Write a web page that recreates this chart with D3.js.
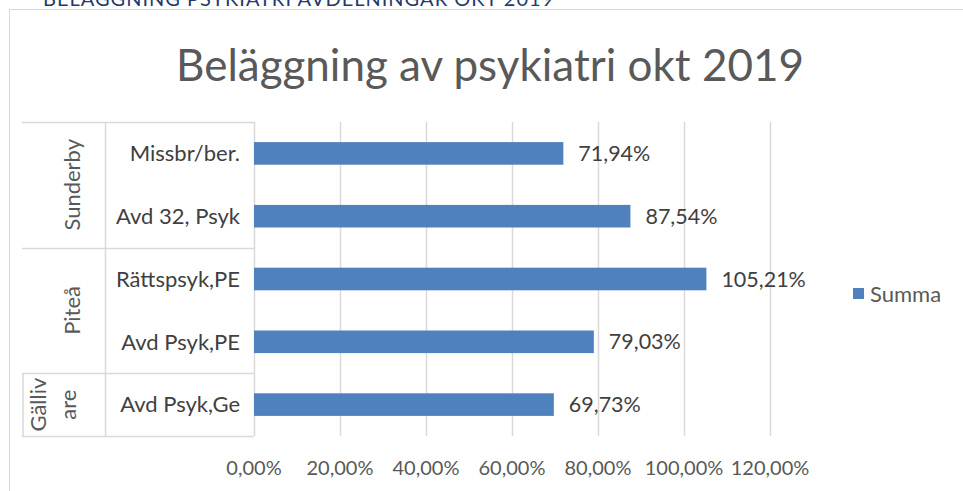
<!DOCTYPE html>
<html>
<head>
<meta charset="utf-8">
<script src="https://cdn.jsdelivr.net/npm/d3@7"></script>
<style>
  body { margin: 0; background: #fff; }
  svg { display: block; font-family: Lato, "Open Sans", sans-serif; }
</style>
</head>
<body>
<svg id="chart" width="963" height="491"></svg>
<script>
// Chart data.
const categories = ['Missbr/ber.', 'Avd 32, Psyk', 'Rättspsyk,PE', 'Avd Psyk,PE', 'Avd Psyk,Ge'];
const values = [71.94, 87.54, 105.21, 79.03, 69.73];
const groups = [
  {lines: ['Sunderby'], first: 0, last: 1},
  {lines: ['Piteå'], first: 2, last: 3},
  {lines: ['Gälliv', 'are'], first: 4, last: 4},
];
const xTicks = [0, 20, 40, 60, 80, 100, 120];
const titleText = 'Beläggning av psykiatri okt 2019';
const headingText = 'BELÄGGNING PSYKIATRI AVDELNINGAR OKT 2019';
const seriesName = 'Summa';

const svg = d3.select('#chart');
const textColor = '#595959';
const gridColor = '#d9d9d9';
const barColor = '#4f81bd';
const fmt = v => v.toFixed(2).replace('.', ',') + '%';

// Heading of the page above the chart; only its lower part is in view.
svg.append('text')
    .attr('x', 43)
    .attr('y', 6)
    .attr('fill', '#1f3a6e')
    .style('font-size', '20px')
    .style('letter-spacing', '1px')
    .text(headingText);

// Chart area border.
svg.append('rect')
    .attr('x', 9.5).attr('y', 9.5)
    .attr('width', 1000).attr('height', 600)
    .attr('fill', 'none')
    .attr('stroke', gridColor);

svg.append('text')
    .attr('x', 490)
    .attr('y', 81)
    .attr('text-anchor', 'middle')
    .attr('fill', textColor)
    .style('font-size', '44px')
    .text(titleText);

const x = d3.scaleLinear().domain([0, 120]).range([254, 770]);
const y = d3.scaleBand().domain(categories).range([122, 436]).paddingInner(0.64).paddingOuter(0.32);
const band = (y.range()[1] - y.range()[0]) / categories.length;
const plotTop = y.range()[0];
const plotBottom = y.range()[1];

// Vertical gridlines.
svg.append('g')
    .selectAll('line')
    .data(xTicks)
    .join('line')
    .attr('x1', d => Math.round(x(d)) + 0.5)
    .attr('x2', d => Math.round(x(d)) + 0.5)
    .attr('y1', plotTop)
    .attr('y2', plotBottom)
    .attr('stroke', gridColor)
    .attr('stroke-width', 1.5);

// Tick labels.
svg.append('g')
    .selectAll('text')
    .data(xTicks)
    .join('text')
    .attr('x', d => x(d))
    .attr('y', 475)
    .attr('text-anchor', 'middle')
    .attr('fill', textColor)
    .style('font-size', '20px')
    .text(d => d.toFixed(2).replace('.', ',') + '%');

// Bars.
svg.append('g')
    .selectAll('rect')
    .data(values)
    .join('rect')
    .attr('x', x(0))
    .attr('y', (d, i) => y(categories[i]))
    .attr('width', d => x(d) - x(0))
    .attr('height', y.bandwidth())
    .attr('fill', barColor);

// Data labels.
svg.append('g')
    .selectAll('text')
    .data(values)
    .join('text')
    .attr('x', d => x(d) + 15)
    .attr('y', (d, i) => y(categories[i]) + y.bandwidth() / 2)
    .attr('dy', '0.35em')
    .attr('fill', '#404040')
    .style('font-size', '21.5px')
    .text(fmt);

// Category labels.
svg.append('g')
    .selectAll('text')
    .data(categories)
    .join('text')
    .attr('x', 240)
    .attr('y', d => y(d) + y.bandwidth() / 2)
    .attr('dy', '0.35em')
    .attr('text-anchor', 'end')
    .attr('fill', '#404040')
    .style('font-size', '22px')
    .text(d => d);

// Multi-level category axis: group separators and rotated group names.
const sepY = [plotTop].concat(groups.map(g => plotTop + (g.last + 1) * band));
svg.append('g')
    .selectAll('line')
    .data(sepY)
    .join('line')
    .attr('x1', 22).attr('x2', 254)
    .attr('y1', d => Math.round(d) + 0.5)
    .attr('y2', d => Math.round(d) + 0.5)
    .attr('stroke', gridColor)
    .attr('stroke-width', 1.5);

svg.append('line')
    .attr('x1', 105.5).attr('x2', 105.5)
    .attr('y1', plotTop).attr('y2', plotBottom)
    .attr('stroke', gridColor)
    .attr('stroke-width', 1.5);

const lastGroup = groups[groups.length - 1];
svg.append('line')
    .attr('x1', 23).attr('x2', 23)
    .attr('y1', plotTop + lastGroup.first * band)
    .attr('y2', plotBottom)
    .attr('stroke', gridColor)
    .attr('stroke-width', 1.5);

groups.forEach(g => {
  const cy = plotTop + (g.first + g.last + 1) * band / 2;
  const n = g.lines.length;
  g.lines.forEach((t, k) => {
    const tx = 80 - (n - 1 - k) * 30 - (n - 1) * 4;
    svg.append('text')
        .attr('transform', `translate(${tx},${cy}) rotate(-90)`)
        .attr('text-anchor', 'middle')
        .attr('fill', textColor)
        .style('font-size', '22px')
        .text(t);
  });
});

// Legend.
const legend = svg.append('g').attr('transform', 'translate(853,288)');
legend.append('rect')
    .attr('width', 11).attr('height', 11)
    .attr('fill', barColor);
legend.append('text')
    .attr('x', 17)
    .attr('y', 6)
    .attr('dy', '0.35em')
    .attr('fill', textColor)
    .style('font-size', '22px')
    .text(seriesName);
</script>
</body>
</html>
